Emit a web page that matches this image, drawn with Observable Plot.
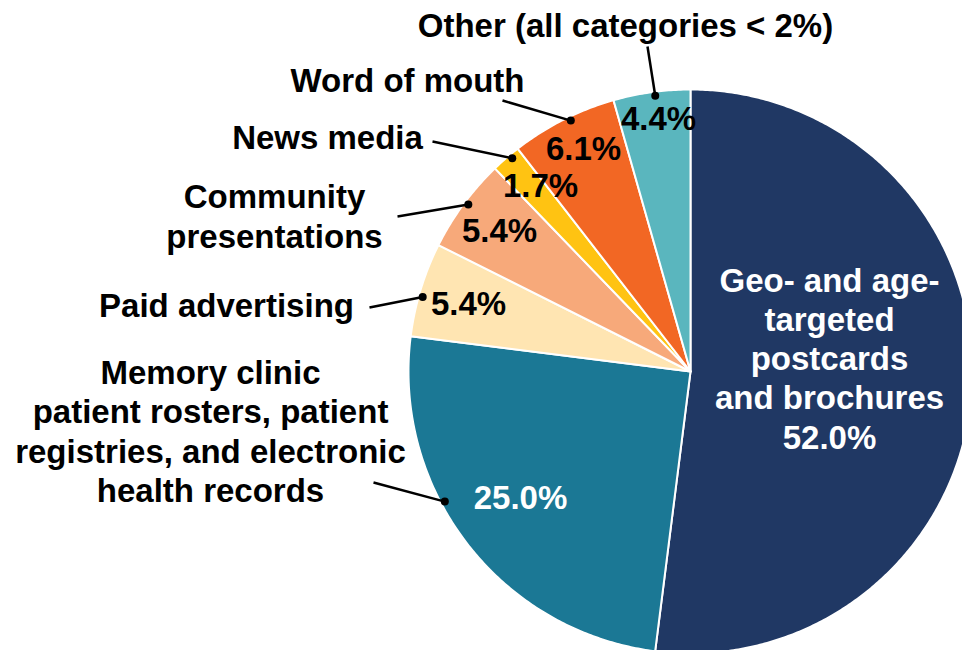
<!DOCTYPE html>
<html>
<head>
<meta charset="utf-8">
<script src="https://cdn.jsdelivr.net/npm/d3@7"></script>
<script src="https://cdn.jsdelivr.net/npm/@observablehq/plot@0.6"></script>
<style>
  html, body { margin: 0; padding: 0; background: #fff; }
  #chart svg { display: block; }
</style>
</head>
<body>
<div id="chart"></div>
<script>
// ---- Data ----
const categories = [
  "Geo- and age-targeted postcards and brochures",
  "Memory clinic patient rosters, patient registries, and electronic health records",
  "Paid advertising",
  "Community presentations",
  "News media",
  "Word of mouth",
  "Other (all categories < 2%)"
];
const shares = [52.0, 25.0, 5.4, 5.4, 1.7, 6.1, 4.4];
const labelText = [
  "Geo- and age-\ntargeted\npostcards\nand brochures",
  "Memory clinic\npatient rosters, patient\nregistries, and electronic\nhealth records",
  "Paid advertising",
  "Community\npresentations",
  "News media",
  "Word of mouth",
  "Other (all categories < 2%)"
];

// ---- Styles / layout (kept separate from data) ----
const colors = ["#203864", "#1B7895", "#FFE5B2", "#F7A97A", "#FFC312", "#F26724", "#5AB6BE"];
const CX = 690, CY = 371, R = 282;
const nameAt  = [[829, 357], [210, 430], [226, 304], [274, 215], [327, 136], [407, 79], [625, 24]];
const pctAt   = [null, [520, 498], [468, 304], [499, 231], [540, 186], [583, 149], [658, 119]];
const pctFill = [null, "white", "black", "black", "black", "black", "black"];
const leaderFrom = [null, [373, 482], [369, 307], [397, 216], [432, 141], [502, 100], [647, 46]];
const dotFrac = [null, 0.61, 0.43, 0.53, 0.66, 0.56, 0.54];
const dotInset = 4;
const FONT = "'Liberation Sans', Arial, Helvetica, sans-serif";
const FS = 33;

// ---- Derived geometry ----
const fmt = v => d3.format(".1f")(v) + "%";
const arcs = d3.pie().sort(null).value(d => d)(shares);
const pt = (a, r) => ({x: CX + r * Math.sin(a), y: CY - r * Math.cos(a)});

const slicePts = [];
arcs.forEach((a, i) => {
  const n = Math.max(4, Math.ceil((a.endAngle - a.startAngle) / (Math.PI / 360)));
  slicePts.push({cat: categories[i], ...pt(0, 0)});
  for (let k = 0; k <= n; k++) {
    const ang = a.startAngle + (a.endAngle - a.startAngle) * k / n;
    slicePts.push({cat: categories[i], ...pt(ang, R)});
  }
});

const names = categories.map((c, i) => ({
  text: i === 0 ? labelText[i] + "\n" + fmt(shares[i]) : labelText[i],
  x: nameAt[i][0], y: nameAt[i][1],
  fill: i === 0 ? "white" : "black"
}));
const pcts = categories.map((c, i) => pctAt[i] ? ({
  text: fmt(shares[i]), x: pctAt[i][0], y: pctAt[i][1], fill: pctFill[i]
}) : null).filter(d => d);
const leaders = categories.map((c, i) => {
  if (!leaderFrom[i]) return null;
  const a = arcs[i];
  const ang = a.startAngle + (a.endAngle - a.startAngle) * dotFrac[i];
  const p = pt(ang, R - dotInset);
  return {x1: leaderFrom[i][0], y1: leaderFrom[i][1], x2: p.x, y2: p.y};
}).filter(d => d);

const chart = Plot.plot({
  width: 962,
  height: 650,
  margin: 0,
  style: {fontFamily: FONT, background: "white", overflow: "hidden"},
  x: {domain: [0, 962], range: [0, 962], axis: null},
  y: {domain: [0, 650], range: [0, 650], axis: null},
  color: {domain: categories, range: colors},
  marks: [
    Plot.line(slicePts, {x: "x", y: "y", z: "cat", fill: "cat", stroke: "white", strokeWidth: 2, strokeLinejoin: "round", curve: "linear-closed"}),
    Plot.link(leaders, {x1: "x1", y1: "y1", x2: "x2", y2: "y2", stroke: "black", strokeWidth: 2.5}),
    Plot.dot(leaders, {x: "x2", y: "y2", r: 4, fill: "black", stroke: "none"}),
    Plot.text(names, {x: "x", y: "y", text: "text", fill: d => d.fill, fontSize: FS, fontWeight: "bold", lineHeight: 1.19, textAnchor: "middle", lineAnchor: "middle", fontFamily: FONT}),
    Plot.text(pcts, {x: "x", y: "y", text: "text", fill: d => d.fill, fontSize: FS, fontWeight: "bold", textAnchor: "middle", lineAnchor: "middle", fontFamily: FONT})
  ]
});
document.getElementById("chart").appendChild(chart);
</script>
</body>
</html>
